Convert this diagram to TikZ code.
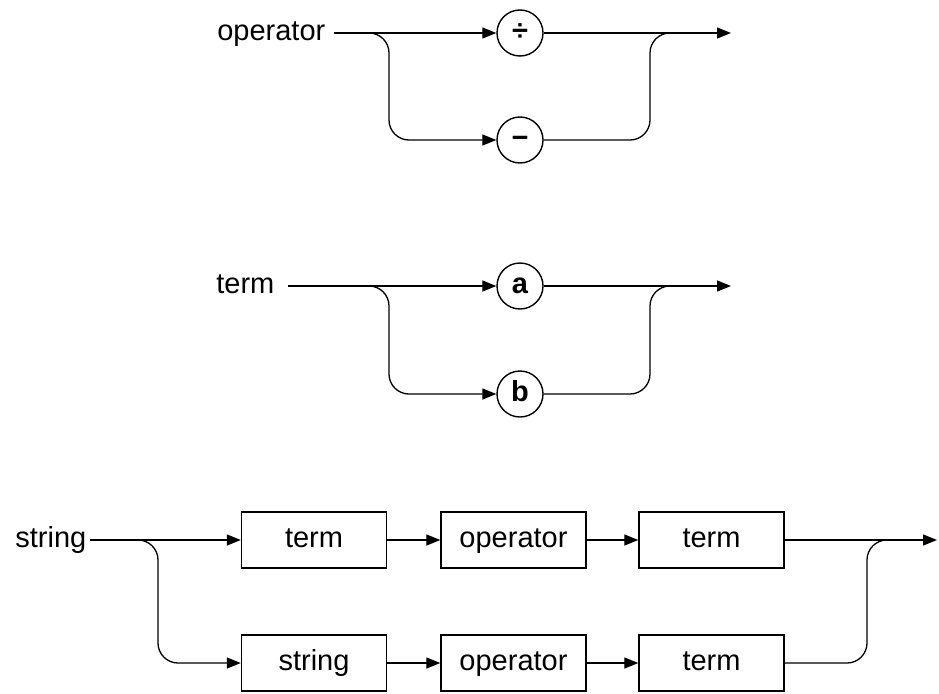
\documentclass[tikz,border=0pt]{standalone}
\usepackage{fontspec}
\setmainfont{Liberation Sans}
\usetikzlibrary{arrows.meta}

\tikzset{
	lbl/.style={anchor=east,inner ysep=0pt,text height=15pt,text depth=0pt,font=\fontsize{29}{33}\selectfont},
	sym/.style={circle,draw,line width=1.4pt,minimum size=46pt,inner sep=0pt,text height=15pt,text depth=0pt,font=\fontsize{29}{33}\selectfont\bfseries},
	nterm/.style={draw,line width=1.4pt,minimum width=145pt,minimum height=56pt,inner sep=0pt,text height=15pt,text depth=0pt,font=\fontsize{29}{33}\selectfont},
	arr/.style={-{Triangle[length=14pt,width=11pt]}},
	tail/.style={shorten >=14pt},
}

\begin{document}
\begin{tikzpicture}[x=1pt,y=-1pt,line width=1.3pt]
	\useasboundingbox (0,0) rectangle (939,693);
	% operator
	\node[lbl,inner xsep=8pt](oplbl) at (334,33){operator};
	\node[sym](div) at (520,33){÷};
	\node[sym](minus) at (520,140){−};
	\coordinate(opsplit) at (389,33);
	\coordinate(opmerge) at (650,33);
	\coordinate(opend) at (731,33);
	\draw[arr](oplbl.east)--(div.west);
	\draw[arr,rounded corners=20pt](oplbl.east)-|(opsplit|-minus)--(minus.west);
	\draw[arr](div.east)--(opend);
	\draw[tail,rounded corners=20pt](minus.east)-|(opmerge)--(opend);
	% term
	\node[lbl,inner xsep=13pt](tlbl) at (288,286){term};
	\node[sym](a) at (520,286){a};
	\node[sym](b) at (520,394){b};
	\coordinate(tsplit) at (389,286);
	\coordinate(tmerge) at (650,286);
	\coordinate(tend) at (731,286);
	\draw[arr](tlbl.east)--(a.west);
	\draw[arr,rounded corners=20pt](tlbl.east)-|(tsplit|-b)--(b.west);
	\draw[arr](a.east)--(tend);
	\draw[tail,rounded corners=20pt](b.east)-|(tmerge)--(tend);
	% string
	\node[lbl,inner xsep=3pt](slbl) at (90,540){string};
	\node[nterm](t1) at (314,540){term};
	\node[nterm](o1) at (513.5,540){operator};
	\node[nterm](t2) at (711.5,540){term};
	\node[nterm](s2) at (314,663){string};
	\node[nterm](o2) at (513.5,663){operator};
	\node[nterm](t3) at (711.5,663){term};
	\coordinate(ssplit) at (158,540);
	\coordinate(smerge) at (867,540);
	\coordinate(send) at (937,540);
	\draw[arr](slbl.east)--(t1.west);
	\draw[arr,rounded corners=20pt](slbl.east)-|(ssplit|-s2)--(s2.west);
	\draw[arr](t1)--(o1);
	\draw[arr](o1)--(t2);
	\draw[arr](s2)--(o2);
	\draw[arr](o2)--(t3);
	\draw[arr](t2.east)--(send);
	\draw[tail,rounded corners=20pt](t3.east)-|(smerge)--(send);
\end{tikzpicture}
\end{document}
